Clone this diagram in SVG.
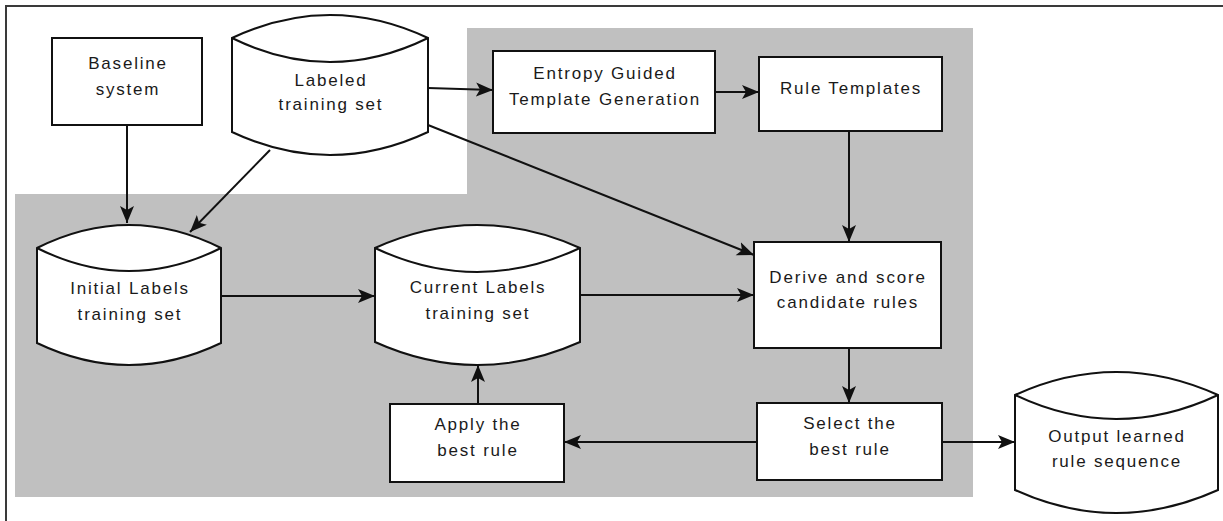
<svg xmlns="http://www.w3.org/2000/svg" width="1223" height="521" viewBox="0 0 1223 521">
<defs>
<marker id="arr" markerUnits="userSpaceOnUse" markerWidth="19" markerHeight="16" refX="17" refY="7" orient="auto">
<path d="M0,0 L17,7 L0,14 L4,7 z" fill="#111"/>
</marker>
<style>
.node{fill:#fff;stroke:#111;stroke-width:2}
.t{font-family:"Liberation Sans",Arial,sans-serif;font-size:17px;letter-spacing:1.8px;fill:#1a1a1a;text-anchor:middle}
.c{fill:none;stroke:#111;stroke-width:2;marker-end:url(#arr)}
</style>
</defs>
<rect width="1223" height="521" fill="#fff"/>
<path d="M6,521 V6 H1223" fill="none" stroke="#3a3a3a" stroke-width="2"/>
<path id="region" d="M467,28 H973 V497 H15 V194 H467 Z" fill="#c0c0c0"/>

<g id="baseline">
<rect class="node" x="52" y="38" width="150" height="87"/>
<text class="t" x="128" y="69">Baseline</text>
<text class="t" x="128" y="95">system</text>
</g>

<g id="labeled">
<path class="node" d="M232,38 Q330,-8 428,38 V132 Q330,178 232,132 Z"/>
<path d="M232,38 Q330,86 428,38" fill="none" stroke="#111" stroke-width="2"/>
<text class="t" x="331" y="86">Labeled</text>
<text class="t" x="331" y="110">training set</text>
</g>

<g id="entropy">
<rect class="node" x="493" y="51" width="222" height="82"/>
<text class="t" x="605" y="79">Entropy Guided</text>
<text class="t" x="605" y="105">Template Generation</text>
</g>

<g id="templates">
<rect class="node" x="759" y="57" width="183" height="74"/>
<text class="t" x="851" y="94">Rule Templates</text>
</g>

<g id="initial">
<path class="node" d="M37,248 Q129,202 221,248 V343 Q129,387 37,343 Z"/>
<path d="M37,248 Q129,294 221,248" fill="none" stroke="#111" stroke-width="2"/>
<text class="t" x="130" y="294">Initial Labels</text>
<text class="t" x="130" y="320">training set</text>
</g>

<g id="current">
<path class="node" d="M375,248 Q477,202 580,248 V342 Q477,388 375,342 Z"/>
<path d="M375,248 Q477,296 580,248" fill="none" stroke="#111" stroke-width="2"/>
<text class="t" x="478" y="293">Current Labels</text>
<text class="t" x="478" y="319">training set</text>
</g>

<g id="derive">
<rect class="node" x="754" y="242" width="187" height="106"/>
<text class="t" x="848" y="283">Derive and score</text>
<text class="t" x="848" y="308">candidate rules</text>
</g>

<g id="select">
<rect class="node" x="757" y="403" width="185" height="77"/>
<text class="t" x="850" y="429">Select the</text>
<text class="t" x="850" y="455">best rule</text>
</g>

<g id="apply">
<rect class="node" x="390" y="404" width="174" height="78"/>
<text class="t" x="478" y="430">Apply the</text>
<text class="t" x="478" y="456">best rule</text>
</g>

<g id="output">
<path class="node" d="M1015,395 Q1116,349 1218,395 V490 Q1116,536 1015,490 Z"/>
<path d="M1015,395 Q1116,443 1218,395" fill="none" stroke="#111" stroke-width="2"/>
<text class="t" x="1117" y="442">Output learned</text>
<text class="t" x="1117" y="467">rule sequence</text>
</g>

<g id="connectors">
<line class="c" x1="127" y1="125" x2="127" y2="223"/>
<line class="c" x1="270" y1="150" x2="190" y2="232"/>
<line class="c" x1="428" y1="88" x2="493" y2="90"/>
<line class="c" x1="428" y1="125" x2="754" y2="255"/>
<line class="c" x1="715" y1="92" x2="759" y2="92"/>
<line class="c" x1="849" y1="131" x2="849" y2="242"/>
<line class="c" x1="221" y1="296" x2="375" y2="296"/>
<line class="c" x1="580" y1="295" x2="754" y2="295"/>
<line class="c" x1="849" y1="348" x2="849" y2="403"/>
<line class="c" x1="757" y1="442" x2="564" y2="442"/>
<line class="c" x1="942" y1="442" x2="1015" y2="442"/>
<line class="c" x1="478" y1="404" x2="478" y2="365"/>
</g>
</svg>
